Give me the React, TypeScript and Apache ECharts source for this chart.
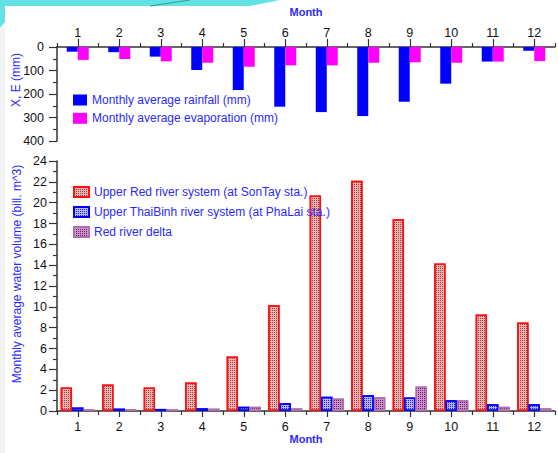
import React, { useEffect, useRef } from "react";
import * as echarts from "echarts";

const months = ["1", "2", "3", "4", "5", "6", "7", "8", "9", "10", "11", "12"];
const rainfall = [20, 22, 41, 98, 183, 254, 277, 294, 233, 156, 62, 16];
const evaporation = [55, 51, 61, 67, 84, 78, 78, 67, 65, 67, 62, 60];
const sonTay = [2.25, 2.54, 2.25, 2.73, 5.23, 10.16, 20.7, 22.1, 18.4, 14.17, 9.27, 8.5];
const phaLai = [0.33, 0.23, 0.2, 0.26, 0.42, 0.74, 1.38, 1.51, 1.29, 1.03, 0.64, 0.64];
const delta = [0.16, 0.16, 0.16, 0.23, 0.42, 0.26, 1.19, 1.32, 2.35, 1.03, 0.42, 0.26];

const topTicks = [0, 100, 200, 300, 400];
const bottomTicks = [0, 24];

const FONT = "'Liberation Sans', Arial, sans-serif";
const BLUE_TEXT = "#2a2aff";
const AXIS = "#333333";

export default function App() {
  const ref = useRef<HTMLDivElement>(null);
  useEffect(() => {
    if (!ref.current) return;
    const chart = echarts.init(ref.current, undefined, { renderer: "svg" });
    const catAxisBase = (gridIndex: number, position: "top" | "bottom") => [
      {
        type: "category",
        gridIndex,
        position,
        data: months,
        axisLine: { show: true, lineStyle: { color: AXIS, width: 1.5 } },
        axisTick: { show: true, alignWithLabel: true, length: position === "top" ? 8 : 6, lineStyle: { color: AXIS, width: 1.2 } },
        axisLabel: { color: "#111", fontFamily: FONT, fontSize: 12.5, margin: position === "top" ? 8 : 9 },
        splitLine: { show: false },
      },
      {
        type: "category",
        gridIndex,
        position,
        data: months,
        axisLine: { show: false },
        axisTick: { show: true, alignWithLabel: false, length: 4, lineStyle: { color: AXIS, width: 1.2 } },
        axisLabel: { show: false },
        splitLine: { show: false },
      },
    ];
    const option: any = {
      animation: false,
      backgroundColor: "#ffffff",
      grid: [
        { left: 57, top: 47, width: 498, height: 94 },
        { left: 57, top: 161, width: 498, height: 250 },
      ],
      xAxis: [...catAxisBase(0, "top"), ...catAxisBase(1, "bottom")],
      yAxis: [
        {
          type: "value",
          gridIndex: 0,
          inverse: true,
          min: topTicks[0],
          max: topTicks[topTicks.length - 1],
          interval: 100,
          axisLine: { show: true, lineStyle: { color: AXIS, width: 1.5 } },
          axisTick: { show: true, length: 8, lineStyle: { color: AXIS, width: 1.2 } },
          minorTick: { show: true, splitNumber: 2, length: 4, lineStyle: { color: AXIS, width: 1.2 } },
          axisLabel: { color: "#111", fontFamily: FONT, fontSize: 12.5, margin: 13 },
          splitLine: { show: false },
        },
        {
          type: "value",
          gridIndex: 1,
          min: bottomTicks[0],
          max: bottomTicks[1],
          interval: 2,
          axisLine: { show: true, lineStyle: { color: AXIS, width: 1.5 } },
          axisTick: { show: true, length: 8, lineStyle: { color: AXIS, width: 1.2 } },
          minorTick: { show: true, splitNumber: 2, length: 4, lineStyle: { color: AXIS, width: 1.2 } },
          axisLabel: { color: "#111", fontFamily: FONT, fontSize: 12.5, margin: 10 },
          splitLine: { show: false },
        },
      ],
      legend: [
        {
          orient: "vertical",
          left: 68,
          top: 89,
          itemWidth: 14,
          itemHeight: 11,
          itemGap: 6.3,
          icon: "rect",
          data: ["Monthly average rainfall (mm)", "Monthly average evaporation (mm)"],
          textStyle: { color: BLUE_TEXT, fontFamily: FONT, fontSize: 12, lineHeight: 12 },
        },
        {
          orient: "vertical",
          left: 68,
          top: 181,
          itemWidth: 15,
          itemHeight: 10,
          itemGap: 8,
          icon: "rect",
          data: [
            "Upper Red river system (at SonTay sta.)",
            "Upper ThaiBinh river system (at PhaLai sta.)",
            "Red river delta",
          ],
          textStyle: { color: BLUE_TEXT, fontFamily: FONT, fontSize: 12, lineHeight: 12 },
        },
      ],
      series: [
        {
          type: "bar",
          name: "Monthly average rainfall (mm)",
          xAxisIndex: 0,
          yAxisIndex: 0,
          data: rainfall,
          barWidth: 11,
          barGap: "0%",
          itemStyle: { color: "#0000ff" },
        },
        {
          type: "bar",
          name: "Monthly average evaporation (mm)",
          xAxisIndex: 0,
          yAxisIndex: 0,
          data: evaporation,
          barWidth: 11,
          barGap: "0%",
          itemStyle: { color: "#ff00ff" },
        },
        {
          type: "bar",
          name: "Upper Red river system (at SonTay sta.)",
          xAxisIndex: 2,
          yAxisIndex: 1,
          data: sonTay,
          barWidth: 11.4,
          barGap: "0%",
          itemStyle: {
            color: "#eab4b4",
            borderColor: "#ff1010",
            borderWidth: 1.5,
            decal: { color: "rgba(150,30,30,0.8)", symbol: "rect", symbolSize: 1, dashArrayX: [1, 1], dashArrayY: [1, 1], rotation: 0 },
          },
        },
        {
          type: "bar",
          name: "Upper ThaiBinh river system (at PhaLai sta.)",
          xAxisIndex: 2,
          yAxisIndex: 1,
          data: phaLai,
          barWidth: 11.4,
          barGap: "0%",
          itemStyle: {
            color: "#b4b4ff",
            borderColor: "#0000ff",
            borderWidth: 1.5,
            decal: { color: "rgba(20,20,200,0.9)", symbol: "rect", symbolSize: 1, dashArrayX: [1, 1], dashArrayY: [1, 1], rotation: 0 },
          },
        },
        {
          type: "bar",
          name: "Red river delta",
          xAxisIndex: 2,
          yAxisIndex: 1,
          data: delta,
          barWidth: 11.4,
          barGap: "0%",
          itemStyle: {
            color: "#c898c8",
            borderColor: "#b070b0",
            borderWidth: 1.5,
            decal: { color: "rgba(110,0,110,0.9)", symbol: "rect", symbolSize: 1, dashArrayX: [1, 1], dashArrayY: [1, 1], rotation: 0 },
          },
        },
      ],
      graphic: [
        {
          type: "polygon",
          silent: true,
          z: -10,
          shape: { points: [[0, 0], [280, 0], [250, 6], [5, 6], [5, 22], [0, 28]] },
          style: { fill: "#62e2e4" },
        },
        {
          type: "line",
          silent: true,
          z: -9,
          shape: { x1: 150, y1: 6, x2: 190, y2: 0 },
          style: { stroke: "#2a9e9e", lineWidth: 1 },
        },
        {
          type: "rect",
          silent: true,
          z: -10,
          shape: { x: 0, y: 28, width: 5, height: 425 },
          style: { fill: "#f1f3f5" },
        },
        {
          type: "text",
          x: 306,
          y: 12,
          style: { text: "Month", fill: BLUE_TEXT, font: `bold 11px ${FONT}`, textAlign: "center", textVerticalAlign: "middle" },
        },
        {
          type: "text",
          x: 306,
          y: 439,
          style: { text: "Month", fill: BLUE_TEXT, font: `bold 11px ${FONT}`, textAlign: "center", textVerticalAlign: "middle" },
        },
        {
          type: "text",
          x: 16,
          y: 80,
          rotation: Math.PI / 2,
          style: { text: "X, E (mm)", fill: BLUE_TEXT, font: `12px ${FONT}`, textAlign: "center", textVerticalAlign: "middle" },
        },
        {
          type: "text",
          x: 17,
          y: 274,
          rotation: Math.PI / 2,
          style: { text: "Monthly average water volume (bill. m^3)", fill: BLUE_TEXT, font: `12px ${FONT}`, textAlign: "center", textVerticalAlign: "middle" },
        },
      ],
    };
    chart.setOption(option);
    return () => chart.dispose();
  }, []);
  return <div ref={ref} style={{ position: "absolute", left: 0, top: 0, width: 558, height: 453 }} />;
}
